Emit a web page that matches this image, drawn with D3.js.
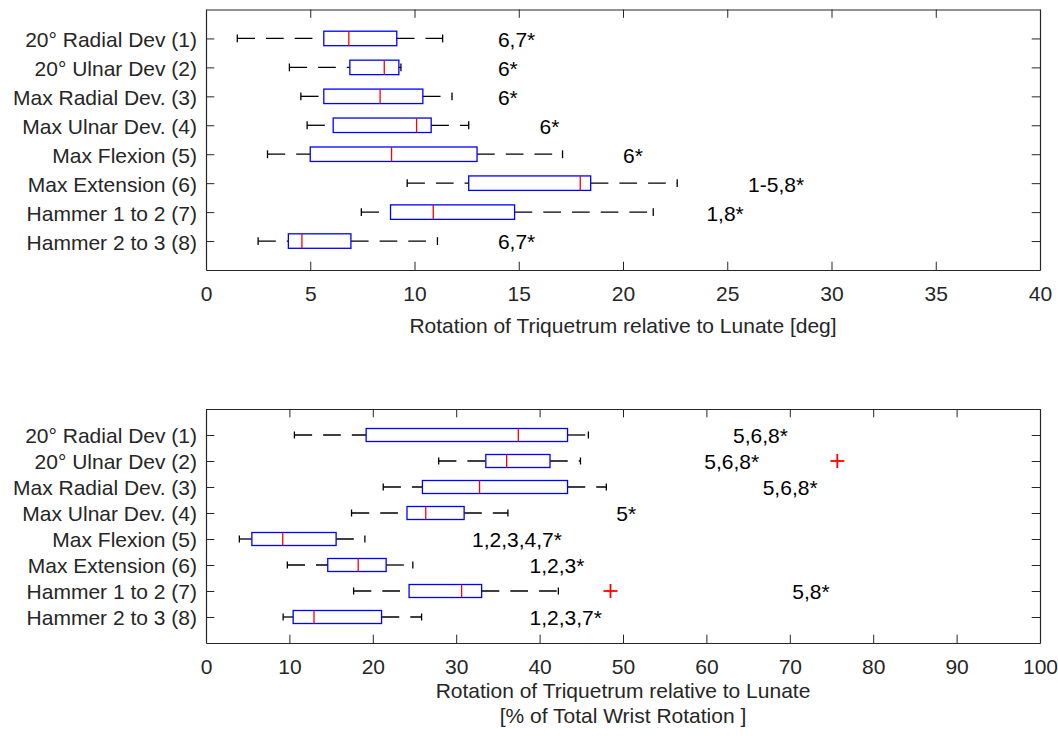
<!DOCTYPE html>
<html>
<head>
<meta charset="utf-8">
<script src="https://cdn.jsdelivr.net/npm/d3@7"></script>
<style>
  body { margin: 0; background: #fff; }
  svg { font-family: 'Liberation Sans', Arial, Helvetica, sans-serif; }
</style>
</head>
<body>
<svg width="1058" height="739"></svg>
<script>
// categories (rows top -> bottom)
let categories = ['20° Radial Dev (1)', '20° Ulnar Dev (2)', 'Max Radial Dev. (3)', 'Max Ulnar Dev. (4)',
    'Max Flexion (5)', 'Max Extension (6)', 'Hammer 1 to 2 (7)', 'Hammer 2 to 3 (8)']

// top panel: rotation in degrees
let degLow = [1.5, 4.0, 4.55, 4.85, 2.95, 9.65, 7.45, 2.5]
let degQ1 = [5.65, 6.9, 5.65, 6.1, 5.0, 12.6, 8.85, 3.95]
let degMedian = [6.85, 8.55, 8.35, 10.1, 8.9, 17.95, 10.9, 4.6]
let degQ3 = [9.15, 9.25, 10.4, 10.8, 13.0, 18.45, 14.8, 6.95]
let degHigh = [11.35, 9.35, 11.8, 12.6, 17.1, 22.6, 21.45, 11.1]
let degOutliers = []
let degSig = ['6,7*', '6*', '6*', '6*', '6*', '1-5,8*', '1,8*', '6,7*']
let degSigX = [14, 14, 14, 16, 20, 26, 24, 14]
let degTicks = [0, 5, 10, 15, 20, 25, 30, 35, 40]

// bottom panel: % of total wrist rotation
let pctLow = [10.6, 27.9, 21.25, 17.45, 4.0, 9.75, 17.7, 9.25]
let pctQ1 = [19.2, 33.55, 25.95, 24.1, 5.5, 14.6, 24.35, 10.45]
let pctMedian = [37.45, 36.05, 32.8, 26.35, 9.2, 18.25, 30.65, 12.95]
let pctQ3 = [43.35, 41.25, 43.35, 30.95, 15.6, 21.6, 33.05, 21.05]
let pctHigh = [45.85, 44.9, 48.0, 36.2, 19.05, 24.8, 42.25, 25.85]
let pctOutliers = [{ row: 2, value: 75.7 }, { row: 7, value: 48.5 }]
let pctSig = ['5,6,8*', '5,6,8*', '5,6,8*', '5*', '1,2,3,4,7*', '1,2,3*', '5,8*', '1,2,3,7*']
let pctSigX = [63.2, 59.75, 66.75, 49.2, 31.9, 38.8, 70.3, 38.8]
let pctTicks = [0, 10, 20, 30, 40, 50, 60, 70, 80, 90, 100]

let axisColor = '#262626',
    fontSize = 21,
    svg = d3.select('svg')

function rows(low, q1, med, q3, high, sig, sigX) {
    return categories.map((c, i) => ({
        row: i + 1, low: low[i], q1: q1[i], med: med[i], q3: q3[i], high: high[i],
        sig: sig[i], sigX: sigX[i]
    }))
}

function drawPanel(d, outliers, ticks, xMax, top, bottom, labelLines, labelY) {
    let left = 206, right = 1040
    let x = d3.scaleLinear().domain([0, xMax]).range([left, right])
    let y = d3.scaleLinear().domain([0, 9]).range([top, bottom])
    let g = svg.append('g')
    let tick = 8.3

    // axes (box on, ticks inside)
    let ax = [
        [d3.axisBottom(x).tickValues(ticks).tickSize(-tick).tickSizeOuter(0).tickPadding(16), bottom],
        [d3.axisTop(x).tickValues(ticks).tickSize(-tick).tickSizeOuter(0).tickFormat(''), top]
    ]
    ax.forEach(a => {
        g.append('g').attr('transform', 'translate(0,' + a[1] + ')').call(a[0])
    })
    g.append('g').attr('transform', 'translate(' + left + ',0)')
        .call(d3.axisLeft(y).tickValues(d3.range(1, 9)).tickSize(-tick).tickSizeOuter(0)
            .tickPadding(9).tickFormat(i => categories[i - 1]))
    g.append('g').attr('transform', 'translate(' + right + ',0)')
        .call(d3.axisRight(y).tickValues(d3.range(1, 9)).tickSize(-tick).tickSizeOuter(0).tickFormat(''))

    g.selectAll('.domain').attr('stroke', axisColor).attr('stroke-width', 1.2)
    g.selectAll('.tick line').attr('stroke', axisColor).attr('stroke-width', 1)
    g.selectAll('.tick text').attr('fill', axisColor).attr('font-size', fontSize)
        .attr('font-family', "'Liberation Sans', Arial, Helvetica, sans-serif")
    g.selectAll('.tick text').filter(function() { return this.getAttribute('dy') === '0.32em' })
        .attr('dy', '0.38em')

    // x label
    labelLines.forEach((t, i) => {
        g.append('text')
            .text(t)
            .attr('x', (left + right) / 2)
            .attr('y', labelY[i])
            .attr('text-anchor', 'middle')
            .attr('fill', axisColor)
            .attr('font-size', fontSize)
    })

    let boxH = y(0.25) - y(0),
        capH = y(0.135) - y(0),
        plot = g.append('g')

    // whiskers
    plot.selectAll('line.wlo')
        .data(d)
        .enter()
        .append('line')
        .attr('x1', r => x(r.low)).attr('x2', r => x(r.q1))
        .attr('y1', r => y(r.row)).attr('y2', r => y(r.row))
    plot.selectAll('line.whi')
        .data(d)
        .enter()
        .append('line')
        .attr('class', 'whi')
        .attr('x1', r => x(r.q3)).attr('x2', r => x(r.high))
        .attr('y1', r => y(r.row)).attr('y2', r => y(r.row))
    plot.selectAll('line')
        .attr('stroke', '#000')
        .attr('stroke-width', 1.3)
        .attr('stroke-dasharray', '17.7,11')

    // caps
    ;['low', 'high'].forEach(k => {
        plot.selectAll('line.cap-' + k)
            .data(d)
            .enter()
            .append('line')
            .attr('class', 'cap-' + k)
            .attr('x1', r => x(r[k])).attr('x2', r => x(r[k]))
            .attr('y1', r => y(r.row) - capH).attr('y2', r => y(r.row) + capH)
            .attr('stroke', '#000')
            .attr('stroke-width', 1.3)
    })

    // boxes
    plot.selectAll('rect')
        .data(d)
        .enter()
        .append('rect')
        .attr('x', r => x(r.q1))
        .attr('width', r => x(r.q3) - x(r.q1))
        .attr('y', r => y(r.row) - boxH)
        .attr('height', 2 * boxH)
        .attr('fill', 'none')
        .attr('stroke', '#0000ff')
        .attr('stroke-width', 1.3)

    // medians
    plot.selectAll('line.med')
        .data(d)
        .enter()
        .append('line')
        .attr('class', 'med')
        .attr('x1', r => x(r.med)).attr('x2', r => x(r.med))
        .attr('y1', r => y(r.row) - boxH).attr('y2', r => y(r.row) + boxH)
        .attr('stroke', '#ff0000')
        .attr('stroke-width', 1.3)

    // outliers
    let o = plot.selectAll('g.out')
        .data(outliers)
        .enter()
        .append('g')
        .attr('transform', r => 'translate(' + x(r.value) + ',' + y(r.row) + ')')
    o.append('line').attr('x1', -7).attr('x2', 7).attr('stroke', '#ff0000').attr('stroke-width', 1.8)
    o.append('line').attr('y1', -7).attr('y2', 7).attr('stroke', '#ff0000').attr('stroke-width', 1.8)

    // significance labels
    plot.selectAll('text.sig')
        .data(d)
        .enter()
        .append('text')
        .attr('class', 'sig')
        .text(r => r.sig)
        .attr('x', r => x(r.sigX))
        .attr('y', r => y(r.row))
        .attr('dy', '0.4em')
        .attr('font-size', fontSize)
        .attr('fill', '#000')
}

drawPanel(rows(degLow, degQ1, degMedian, degQ3, degHigh, degSig, degSigX), degOutliers, degTicks, 40,
    9.5, 270, ['Rotation of Triquetrum relative to Lunate [deg]'], [333])
drawPanel(rows(pctLow, pctQ1, pctMedian, pctQ3, pctHigh, pctSig, pctSigX), pctOutliers, pctTicks, 100,
    409, 643, ['Rotation of Triquetrum relative to Lunate', '[% of Total Wrist Rotation ]'], [698, 723])
</script>
</body>
</html>
